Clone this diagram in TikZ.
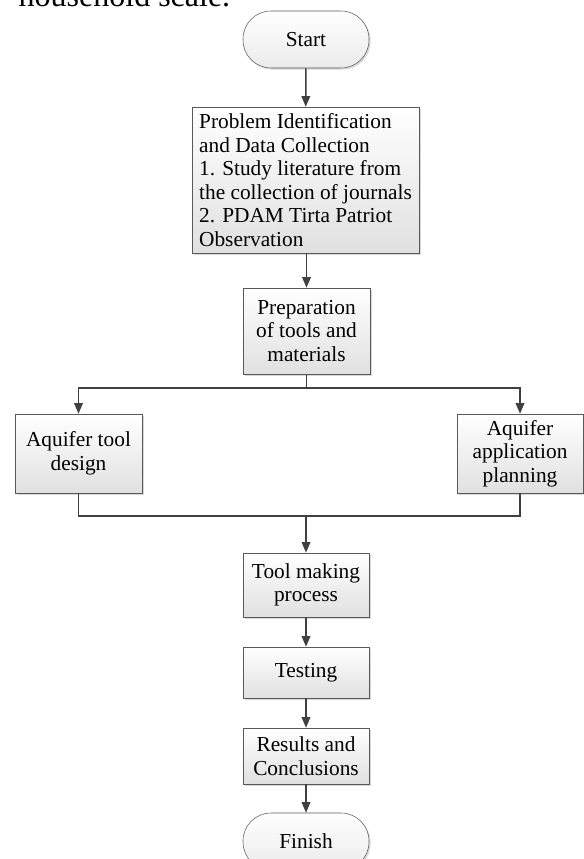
\documentclass[tikz,border=0pt]{standalone}
\usepackage{fontspec}
\setmainfont{Liberation Serif}
\usetikzlibrary{positioning, arrows.meta, shadows}
\tikzset{
  blk/.style   = {draw=black!65, thin, rectangle, align=center, inner sep=2pt,
                  top color=white, bottom color=black!12,
                  drop shadow={shadow xshift=1.2pt, shadow yshift=-1.2pt, fill=black!30},
                  font=\fontsize{16}{17.6}\selectfont, minimum width=94.5pt},
  term/.style  = {blk, rounded corners=21pt, minimum height=42.75pt,
                  top color=white, bottom color=black!8},
  ar/.style    = {-{Triangle[length=8pt, width=6.5pt]}, draw=black!75, line width=1.1pt},
  ln/.style    = {draw=black!75, line width=1.1pt},
}
\begin{document}
\begin{tikzpicture}[x=0.75pt, y=-0.75pt]
  \useasboundingbox (0,0) rectangle (583,859);
  \node[anchor=base west, font=\fontsize{24}{28}\selectfont] (head) at (14,7) {household scale.};
  \node[term] (start) at (306,39.5) {Start};
  \node[blk, align=left, minimum width=170.25pt, minimum height=109.5pt] (prob) at (305.5,180)
    {Problem Identification\\and Data Collection\\1. Study literature from\\the collection of journals\\2. PDAM Tirta Patriot\\Observation};
  \node[blk, minimum width=95.25pt, minimum height=64.5pt] (prep) at (306.5,331)
    {Preparation\\of tools and\\materials};
  \node[blk, minimum width=95.25pt, minimum height=59.25pt] (design) at (78.5,453.5)
    {Aquifer tool\\design};
  \node[blk, minimum height=59.25pt] (plan) at (520,453.5)
    {Aquifer\\application\\planning};
  \node[blk, minimum height=48pt] (make) at (306,585) {Tool making\\process};
  \node[blk, minimum height=38.25pt] (test) at (306,672.5) {Testing};
  \node[blk, minimum height=42pt] (result) at (306,756) {Results and\\Conclusions};
  \node[term] (finish) at (306,841.5) {Finish};
  \coordinate (splt) at (306.5,388);
  \coordinate (join) at (306,516);
  \draw[ar] (start) -- (prob);
  \draw[ar] (prob.south -| prep) -- (prep);
  \draw[ln] (prep) -- (splt);
  \draw[ar] (splt) -| (design);
  \draw[ar] (splt) -| (plan);
  \draw[ln] (design) |- (join);
  \draw[ln] (plan) |- (join);
  \draw[ar] (join) -- (make);
  \draw[ar] (make) -- (test);
  \draw[ar] (test) -- (result);
  \draw[ar] (result) -- (finish);
\end{tikzpicture}
\end{document}
